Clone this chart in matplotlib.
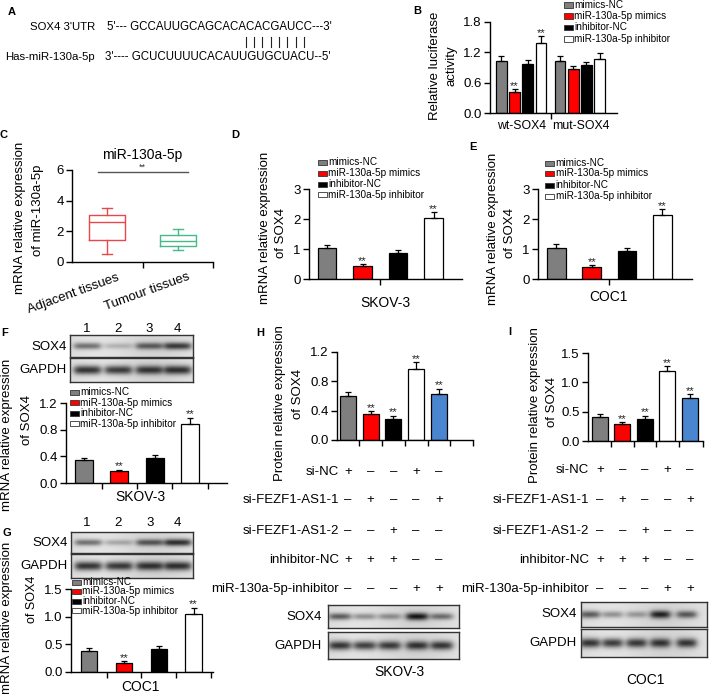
import numpy as np
import matplotlib
matplotlib.use('Agg')
import matplotlib.pyplot as plt
from matplotlib.patches import Rectangle
from matplotlib.lines import Line2D
import matplotlib.transforms as mtrans

plt.rcParams['font.family'] = ['Liberation Sans', 'DejaVu Sans']

W, H = 709, 694

# ------------------------------------------------------------------ data
series_labels = ['mimics-NC', 'miR-130a-5p mimics', 'inhibitor-NC', 'miR-130a-5p inhibitor']
series_colors = ['#7f7f7f', '#ff0000', '#000000', '#ffffff']

b_groups = ['wt-SOX4', 'mut-SOX4']
b_vals = [[1.03, 1.02], [0.42, 0.88], [0.96, 0.94], [1.39, 1.07]]
b_errs = [[0.10, 0.10], [0.05, 0.04], [0.09, 0.07], [0.13, 0.11]]
b_sig = [['', ''], ['**', ''], ['', ''], ['**', '']]
b_yticks = [0.0, 0.6, 1.2, 1.8]

c_groups = ['Adjacent tissues', 'Tumour tissues']
c_whislo = [0.55, 0.76]
c_q1 = [1.42, 1.03]
c_med = [2.58, 1.35]
c_q3 = [3.06, 1.75]
c_whishi = [3.54, 2.12]
c_colors = ['#e8474c', '#46b98a']
c_yticks = [0, 2, 4, 6]

d_vals = [1.03, 0.45, 0.88, 2.02]
d_errs = [0.09, 0.04, 0.08, 0.21]
e_vals = [1.05, 0.39, 0.95, 2.12]
e_errs = [0.12, 0.08, 0.09, 0.22]
de_sig = ['', '**', '', '**']
de_yticks = [0, 1, 2, 3]

f_vals = [0.35, 0.18, 0.38, 0.89]
f_errs = [0.03, 0.02, 0.04, 0.09]
f_yticks = [0.0, 0.4, 0.8, 1.2]
g_vals = [0.38, 0.16, 0.42, 1.04]
g_errs = [0.05, 0.04, 0.05, 0.12]
g_yticks = [0.0, 0.5, 1.0, 1.5]
fg_sig = ['', '**', '', '**']

h_vals = [0.60, 0.35, 0.29, 0.97, 0.63]
h_errs = [0.06, 0.04, 0.04, 0.09, 0.07]
h_yticks = [0.0, 0.4, 0.8, 1.2]
i_vals = [0.41, 0.29, 0.38, 1.19, 0.73]
i_errs = [0.05, 0.03, 0.05, 0.09, 0.07]
i_yticks = [0.0, 0.5, 1.0, 1.5]
hi_sig = ['', '**', '**', '**', '**']
hi_colors = ['#7f7f7f', '#ff0000', '#000000', '#ffffff', '#4a86cf']

table_rows = ['si-NC', 'si-FEZF1-AS1-1', 'si-FEZF1-AS1-2', 'inhibitor-NC', 'miR-130a-5p-inhibitor']
table_marks = [['+', '–', '–', '+', '–'],
               ['–', '+', '–', '–', '+'],
               ['–', '–', '+', '–', '–'],
               ['+', '+', '+', '–', '–'],
               ['–', '–', '–', '+', '+']]

lane_numbers = ['1', '2', '3', '4']
f_sox4_band = [0.55, 0.22, 0.62, 0.80]
f_gapdh_band = [0.85, 0.80, 0.80, 0.85]
g_sox4_band = [0.55, 0.28, 0.65, 0.85]
g_gapdh_band = [0.85, 0.82, 0.82, 0.85]
h_sox4_band = [0.65, 0.40, 0.40, 0.95, 0.55]
h_gapdh_band = [0.85, 0.80, 0.80, 0.82, 0.82]
i_sox4_band = [0.65, 0.40, 0.35, 0.90, 0.65]
i_gapdh_band = [0.85, 0.82, 0.82, 0.82, 0.82]

seq_utr = "5'--- GCCAUUGCAGCACACACGAUCC---3'"
seq_mir = "3'---- GCUCUUUUCACAUUGUGCUACU--5'"

# ------------------------------------------------------------------ helpers
fig = plt.figure(figsize=(W / 100, H / 100), dpi=100)

TICK_FS = 9.5
LAB_FS = 9.5


def ax_px(x0, x1, ytop, ybot):
    return fig.add_axes([x0 / W, 1 - ybot / H, (x1 - x0) / W, (ybot - ytop) / H])


def ftxt(x, y, s, **kw):
    kw.setdefault('fontsize', LAB_FS)
    return fig.text(x / W, 1 - y / H, s, **kw)


def style_ax(ax):
    for sp in ['top', 'right']:
        ax.spines[sp].set_visible(False)
    for sp in ['left', 'bottom']:
        ax.spines[sp].set_linewidth(1.0)
    ax.tick_params(direction='out', length=4, width=1.0, labelsize=TICK_FS, pad=2)
    ax.patch.set_alpha(0)


def bar_panel(rect, vals, errs, colors, sig, xlim, yticks, bw, xticks, ytfmt):
    ax = ax_px(*rect)
    x = np.arange(len(vals))
    ax.bar(x, vals, width=bw, color=colors, edgecolor='black', linewidth=0.9, zorder=2)
    ax.errorbar(x, vals, yerr=[np.zeros(len(vals)), errs], fmt='none', ecolor='black',
                elinewidth=0.9, capsize=2.2, capthick=0.9, zorder=3)
    rng = yticks[-1] - yticks[0]
    for xi, v, e, s in zip(x, vals, errs, sig):
        if s:
            ax.text(xi, v + e - 0.02 * rng, s, ha='center', va='bottom', fontsize=8, color='#222')
    ax.set_xlim(*xlim)
    ax.set_ylim(yticks[0], yticks[-1])
    style_ax(ax)
    ax.set_yticks(yticks)
    ax.set_yticklabels([ytfmt.format(t) for t in yticks])
    ax.set_xticks(xticks)
    ax.set_xticklabels([])
    return ax


def legend_px(x, ys, labels=series_labels, colors=series_colors, fs=7.2):
    for y, lab, col in zip(ys, labels, colors):
        fig.add_artist(Rectangle((x / W, 1 - (y + 2.5) / H), 9 / W, 5 / H, transform=fig.transFigure,
                                 facecolor=col, edgecolor='#333333', linewidth=0.6))
        ftxt(x + 10.5, y, lab, fontsize=fs, ha='left', va='center')


def blot(x0, x1, ytop, ybot, bands, lane_frac, thick=0.22):
    ax = ax_px(x0, x1, ytop, ybot)
    hh, ww = 60, 300
    yy, xx = np.mgrid[0:hh, 0:ww]
    yy = yy / (hh - 1)
    xx = xx / (ww - 1)
    img = np.full((hh, ww), 0.86) + 0.03 * np.sin(xx * 7.0)
    halfw = 0.42 * (lane_frac[1] - lane_frac[0])
    for cx, a in zip(lane_frac, bands):
        prof_x = 1.0 / (1.0 + np.exp((np.abs(xx - cx) - halfw) / 0.015))
        prof_y = np.exp(-((yy - 0.5) / (thick * (0.7 + 0.3 * a))) ** 2)
        img -= 0.8 * a * prof_x * prof_y
    img = np.clip(img, 0, 1)
    ax.imshow(img, cmap='gray', vmin=0, vmax=1, aspect='auto', interpolation='bilinear')
    ax.set_xticks([])
    ax.set_yticks([])
    for sp in ax.spines.values():
        sp.set_linewidth(1.0)
        sp.set_color('#333333')
    return ax


# ------------------------------------------------------------------ panel A
ftxt(12, 12, 'A', fontsize=8, fontweight='bold', ha='center', va='center')
ftxt(30, 27, "SOX4 3'UTR", fontsize=8.2, ha='left', va='center')
ftxt(107, 27, seq_utr, fontsize=8.3, ha='left', va='center')
for xb in [246, 254, 262, 271, 279, 287, 296, 304]:
    fig.add_artist(Line2D([xb / W, xb / W], [1 - 37 / H, 1 - 47 / H], transform=fig.transFigure,
                          color='#222222', linewidth=0.8))
ftxt(5, 57, 'Has-miR-130a-5p', fontsize=8.2, ha='left', va='center')
ftxt(105, 57, seq_mir, fontsize=8.3, ha='left', va='center')

# ------------------------------------------------------------------ panel B
ftxt(417, 11, 'B', fontsize=8, fontweight='bold', ha='center', va='center')
axb = ax_px(490, 617, 22, 113)
offs = [-0.335, -0.113, 0.11, 0.335]
xg = np.arange(len(b_groups))
for k in range(4):
    axb.bar(xg + offs[k], b_vals[k], width=0.178, color=series_colors[k], edgecolor='black',
            linewidth=0.9, zorder=2)
    axb.errorbar(xg + offs[k], b_vals[k], yerr=[np.zeros(2), b_errs[k]], fmt='none', ecolor='black',
                 elinewidth=0.9, capsize=2, capthick=0.9, zorder=3)
    for j in range(2):
        if b_sig[k][j]:
            axb.text(xg[j] + offs[k], b_vals[k][j] + b_errs[k][j] - 0.03, b_sig[k][j], ha='center',
                     va='bottom', fontsize=8, color='#222')
axb.set_xlim(-0.53, 1.63)
axb.set_ylim(0, 1.8)
style_ax(axb)
axb.set_yticks(b_yticks)
axb.set_yticklabels(['{:.1f}'.format(t) for t in b_yticks])
axb.set_xticks([0.5])
axb.set_xticklabels([])
axb.set_xticks(xg + 0.01, minor=True)
axb.set_xticklabels(b_groups, minor=True)
axb.tick_params(axis='x', which='minor', length=0, labelsize=8.8, pad=5)
ftxt(435, 66, 'Relative luciferase', rotation=90, ha='center', va='center')
ftxt(452, 66, 'activity', rotation=90, ha='center', va='center')
legend_px(564, [5, 16, 27.5, 39])

# ------------------------------------------------------------------ panel C
ftxt(4, 135, 'C', fontsize=8, fontweight='bold', ha='center', va='center')
axc = ax_px(72, 213, 170, 262)
stats = []
for k in range(2):
    stats.append(dict(whislo=c_whislo[k], q1=c_q1[k], med=c_med[k], q3=c_q3[k],
                      whishi=c_whishi[k], fliers=[], label=c_groups[k]))
bp = axc.bxp(stats, positions=[0, 1], widths=0.51, showfliers=False, capwidths=0.14,
             patch_artist=False)
for k in range(2):
    col = c_colors[k]
    bp['boxes'][k].set(color=col, linewidth=1.0)
    bp['medians'][k].set(color=col, linewidth=1.0)
    for w in bp['whiskers'][2 * k:2 * k + 2]:
        w.set(color=col, linewidth=1.0)
    for cp in bp['caps'][2 * k:2 * k + 2]:
        cp.set(color=col, linewidth=1.0)
axc.set_xlim(-0.5, 1.5)
axc.set_ylim(0, 6)
style_ax(axc)
axc.set_yticks(c_yticks)
axc.set_yticklabels([str(t) for t in c_yticks])
axc.set_xticks([0.5, 1.5])
axc.set_xticklabels([])
for k in range(2):
    axc.text(k + 0.14, -0.1, c_groups[k], transform=mtrans.blended_transform_factory(axc.transData, axc.transAxes),
             rotation=20, ha='right', va='top', rotation_mode='anchor', fontsize=TICK_FS)
axc.plot([-0.13, 1.14], [5.87, 5.87], color='#555555', linewidth=1.0, clip_on=False)
axc.text(0.5, 6.2, '**', ha='center', va='center', fontsize=6.5, color='#333', clip_on=False)
axc.text(0.5, 7.0, 'miR-130a-5p', ha='center', va='center', fontsize=10, clip_on=False)
ftxt(20, 218, 'mRNA relative expression', rotation=90, ha='center', va='center')
ftxt(38, 210, 'of miR-130a-5p', rotation=90, ha='center', va='center')

# ------------------------------------------------------------------ panel D
ftxt(235, 135, 'D', fontsize=8, fontweight='bold', ha='center', va='center')
bar_panel((309, 462, 189, 279), d_vals, d_errs, series_colors, de_sig, (-0.507, 3.8), de_yticks,
          0.52, [1.5], '{:d}')
legend_px(318, [162, 173, 184, 195])
ftxt(265, 228, 'mRNA relative expression', rotation=90, ha='center', va='center')
ftxt(281, 233, 'of SOX4', rotation=90, ha='center', va='center')
ftxt(385, 303, 'SKOV-3', fontsize=10, ha='center', va='center')

# ------------------------------------------------------------------ panel E
ftxt(473, 147, 'E', fontsize=8, fontweight='bold', ha='center', va='center')
bar_panel((538, 692, 189, 279), e_vals, e_errs, series_colors, de_sig, (-0.52, 3.84), de_yticks,
          0.53, [1.5], '{:d}')
legend_px(545, [163, 173.5, 185, 196])
ftxt(493, 229, 'mRNA relative expression', rotation=90, ha='center', va='center')
ftxt(510, 233, 'of SOX4', rotation=90, ha='center', va='center')
ftxt(608, 297, 'COC1', fontsize=10, ha='center', va='center')

# ------------------------------------------------------------------ panel F
ftxt(5, 333, 'F', fontsize=8, fontweight='bold', ha='center', va='center')
lane_frac4 = [0.14, 0.39, 0.64, 0.87]
blot(70, 193, 335, 357, f_sox4_band, lane_frac4, thick=0.18)
blot(70, 193, 358, 382, f_gapdh_band, lane_frac4, thick=0.2)
for xn, s in zip([87, 118, 149, 177], lane_numbers):
    ftxt(xn, 329, s, ha='center', va='center')
ftxt(67, 347, 'SOX4', ha='right', va='center')
ftxt(67, 370, 'GAPDH', ha='right', va='center')
bar_panel((66, 227, 403, 483), f_vals, f_errs, series_colors, fg_sig, (-0.51, 4.05), f_yticks,
          0.51, [0.5, 1.5, 2.5, 3.5], '{:.1f}')
legend_px(70, [392, 402.5, 413.5, 424])
ftxt(7, 435, 'mRNA relative expression', rotation=90, ha='center', va='center')
ftxt(27, 420, 'of SOX4', rotation=90, ha='center', va='center')
ftxt(140, 497, 'SKOV-3', fontsize=10, ha='center', va='center')

# ------------------------------------------------------------------ panel G
ftxt(7, 533, 'G', fontsize=8, fontweight='bold', ha='center', va='center')
blot(71, 193, 532, 553, g_sox4_band, lane_frac4, thick=0.18)
blot(71, 193, 554, 578, g_gapdh_band, lane_frac4, thick=0.2)
for xn, s in zip([87, 118, 150, 177], lane_numbers):
    ftxt(xn, 523, s, ha='center', va='center')
ftxt(68, 543, 'SOX4', ha='right', va='center')
ftxt(68, 566, 'GAPDH', ha='right', va='center')
bar_panel((71, 213, 589, 672), g_vals, g_errs, series_colors, fg_sig, (-0.52, 3.56), g_yticks,
          0.47, [0.5, 1.5, 2.5, 3.5], '{:.1f}')
legend_px(72, [582, 591.5, 601, 610.5])
ftxt(7, 618, 'mRNA relative expression', rotation=90, ha='center', va='center')
ftxt(32, 599, 'of SOX4', rotation=90, ha='center', va='center', fontsize=9)
ftxt(140, 687, 'COC1', fontsize=10, ha='center', va='center')


# ------------------------------------------------------------------ panels H, I
def table(ax, row_ys, label_right):
    tr = mtrans.blended_transform_factory(ax.transData, fig.transFigure)
    for r, (lab, marks) in enumerate(zip(table_rows, table_marks)):
        y = 1 - row_ys[r] / H
        fig.text(label_right / W, y, lab, fontsize=LAB_FS, ha='right', va='center')
        for c, m in enumerate(marks):
            ax.text(c, y, m, transform=tr, fontsize=LAB_FS, ha='center', va='center', clip_on=False)


ftxt(260, 333, 'H', fontsize=8, fontweight='bold', ha='center', va='center')
axh = bar_panel((337, 473, 352, 440), h_vals, h_errs, hi_colors, hi_sig, (-0.48, 5.5), h_yticks,
                0.7, [0.5, 1.5, 2.5, 3.5, 4.5, 5.5], '{:.1f}')
ftxt(280, 403, 'Protein relative expression', rotation=90, ha='center', va='center')
ftxt(298, 394, 'of SOX4', rotation=90, ha='center', va='center')
table(axh, [472, 500, 531, 560, 589], 339)
lane_frac5h = [0.09, 0.28, 0.47, 0.68, 0.87]
blot(328, 459, 605, 628, h_sox4_band, lane_frac5h, thick=0.17)
blot(328, 459, 632, 659, h_gapdh_band, lane_frac5h, thick=0.18)
ftxt(322, 617, 'SOX4', ha='right', va='center')
ftxt(322, 646, 'GAPDH', ha='right', va='center')
ftxt(399, 672, 'SKOV-3', fontsize=10, ha='center', va='center')

ftxt(510, 332, 'I', fontsize=8, fontweight='bold', ha='center', va='center')
axi = bar_panel((588, 703, 353, 441), i_vals, i_errs, hi_colors, hi_sig, (-0.53, 4.58), i_yticks,
                0.71, [0.5, 1.5, 2.5, 3.5, 4.58], '{:.1f}')
ftxt(535, 405, 'Protein relative expression', rotation=90, ha='center', va='center')
ftxt(552, 402, 'of SOX4', rotation=90, ha='center', va='center')
table(axi, [470, 500, 531, 560, 589], 589)
lane_frac5i = [0.07, 0.25, 0.44, 0.63, 0.84]
blot(581, 707, 602, 627, i_sox4_band, lane_frac5i, thick=0.17)
blot(581, 707, 629, 657, i_gapdh_band, lane_frac5i, thick=0.18)
ftxt(577, 614, 'SOX4', ha='right', va='center')
ftxt(577, 643, 'GAPDH', ha='right', va='center')
ftxt(645, 680, 'COC1', fontsize=10, ha='center', va='center')

fig.savefig('out.png', dpi=100)
